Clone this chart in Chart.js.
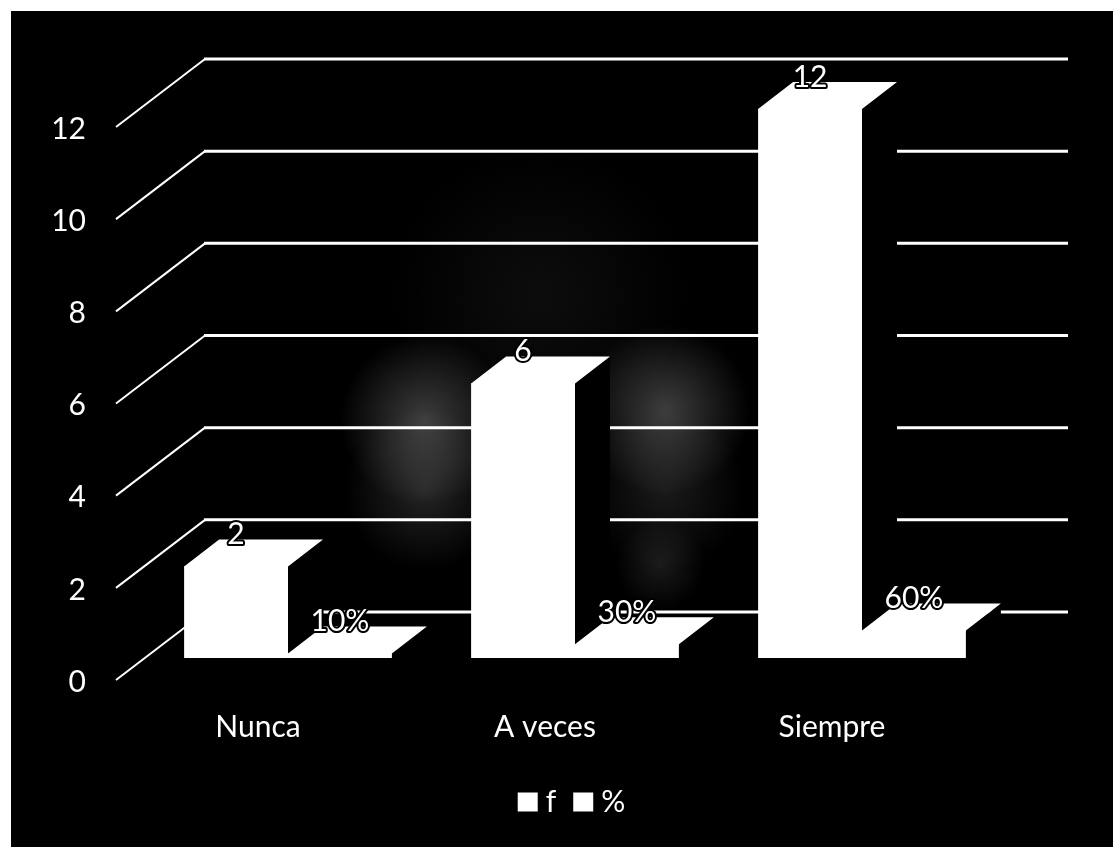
<!DOCTYPE html>
<html>
<head>
<meta charset="utf-8">
<title>Frecuencia</title>
<script src="https://cdn.jsdelivr.net/npm/chart.js@4"></script>
<style>
    html, body { margin: 0; padding: 0; background: #fff; }
    canvas { display: block; }
</style>
</head>
<body>
<canvas id="canvas1" width="1113" height="847"></canvas>
<script>
const categories = ["Nunca", "A veces", "Siempre"]
const fValues = [2, 6, 12]
const percentValues = [0.1, 0.3, 0.6]
const seriesNames = ["f", "%"]

const white = "#ffffff"
const black = "#000000"
const labelFont = { family: "Lato", size: 30 }

// how far the top and side faces of a bar recede
const barDepthX = 35
const barDepthY = -27
// offset from the y scale to the back wall and to the front edge of the floor
const wallX = 205
const wallRight = 1068
const wallOffset = -46
const frontX = 116
const frontOffset = 22

// white page margin, black plate, and the faint grey stains behind the bars
const backdrop = {
    id: "backdrop",
    beforeDraw(chart) {
        const ctx = chart.ctx
        ctx.save()
        ctx.fillStyle = white
        ctx.fillRect(0, 0, chart.width, chart.height)
        ctx.fillStyle = black
        ctx.fillRect(11, 11, chart.width, chart.height)
        const stain = (x, y, r, alpha) => {
            const g = ctx.createRadialGradient(x, y, 0, x, y, r)
            g.addColorStop(0, `rgba(255,255,255,${alpha})`)
            g.addColorStop(1, "rgba(255,255,255,0)")
            ctx.fillStyle = g
            ctx.fillRect(x - r, y - r, r * 2, r * 2)
        }
        stain(425, 420, 85, 0.24)
        stain(425, 490, 80, 0.14)
        stain(665, 410, 85, 0.24)
        stain(665, 490, 80, 0.1)
        stain(540, 295, 150, 0.05)
        stain(660, 565, 45, 0.1)
        ctx.restore()
    }
}

// wall lines, floor diagonals and the receding faces of each bar
const depth3d = {
    id: "depth3d",
    beforeDatasetsDraw(chart) {
        const ctx = chart.ctx
        const y = chart.scales.y
        ctx.save()
        ctx.strokeStyle = white
        y.ticks.forEach(tick => {
            const py = y.getPixelForValue(tick.value)
            ctx.lineWidth = 2
            ctx.beginPath()
            ctx.moveTo(frontX, py + frontOffset)
            ctx.lineTo(wallX, py + wallOffset)
            ctx.stroke()
            ctx.lineWidth = 3
            ctx.beginPath()
            ctx.moveTo(wallX - 1, py + wallOffset)
            ctx.lineTo(wallRight, py + wallOffset)
            ctx.stroke()
        })
        chart.data.datasets.forEach((ds, i) => {
            chart.getDatasetMeta(i).data.forEach(bar => {
                const left = bar.x - bar.width / 2
                const right = bar.x + bar.width / 2
                // side face stays black so it hides the wall lines
                ctx.fillStyle = black
                ctx.beginPath()
                ctx.moveTo(right, bar.y)
                ctx.lineTo(right + barDepthX, bar.y + barDepthY)
                ctx.lineTo(right + barDepthX, bar.base + barDepthY)
                ctx.lineTo(right, bar.base)
                ctx.closePath()
                ctx.fill()
                // top face runs a pixel into the front so no seam shows
                ctx.fillStyle = white
                ctx.beginPath()
                ctx.moveTo(left, bar.y + 1)
                ctx.lineTo(left, bar.y)
                ctx.lineTo(left + barDepthX, bar.y + barDepthY)
                ctx.lineTo(right + barDepthX, bar.y + barDepthY)
                ctx.lineTo(right, bar.y)
                ctx.lineTo(right, bar.y + 1)
                ctx.closePath()
                ctx.fill()
            })
        })
        ctx.restore()
    },
    // value labels, white with a black outline so they read over the bars
    afterDatasetsDraw(chart) {
        const ctx = chart.ctx
        ctx.save()
        ctx.font = `${labelFont.size}px ${labelFont.family}`
        ctx.textAlign = "center"
        ctx.textBaseline = "middle"
        ctx.lineJoin = "round"
        chart.data.datasets.forEach((ds, i) => {
            chart.getDatasetMeta(i).data.forEach((bar, j) => {
                const text = i === 0 ? String(ds.data[j]) : Math.round(ds.data[j] * 100) + "%"
                ctx.lineWidth = 4
                ctx.strokeStyle = black
                ctx.strokeText(text, bar.x, bar.y - 32)
                ctx.fillStyle = white
                ctx.fillText(text, bar.x, bar.y - 32)
            })
        })
        ctx.restore()
    }
}

const ctx = document.querySelector("#canvas1")
const myBarChart = new Chart(ctx, {
    type: "bar",
    data: {
        labels: categories,
        datasets: [
            { label: seriesNames[0], data: fValues, backgroundColor: white, yAxisID: "yBar" },
            { label: seriesNames[1], data: percentValues, backgroundColor: white, yAxisID: "yBar" }
        ]
    },
    plugins: [backdrop, depth3d],
    options: {
        responsive: false,
        animation: false,
        events: [],
        barPercentage: 1,
        categoryPercentage: 0.724,
        layout: { padding: { top: 105, left: 0, right: 107.5, bottom: 20 } },
        scales: {
            x: {
                afterFit: scale => { scale.height = 105 },
                grid: { display: false, drawTicks: false },
                border: { display: false },
                ticks: { color: white, font: labelFont, padding: 51, labelOffset: -30, maxRotation: 0 }
            },
            y: {
                position: "left",
                min: 0,
                max: 12,
                afterFit: scale => { scale.width = 144.5 },
                grid: { display: false, drawTicks: false },
                border: { display: false },
                ticks: { color: white, font: labelFont, stepSize: 2, padding: 58.5, labelOffset: frontOffset + 2 }
            },
            // bars sit slightly forward of the wall, so their scale is a touch shorter
            yBar: { display: false, min: 0, max: 12.09 }
        },
        plugins: {
            tooltip: { enabled: false },
            legend: {
                position: "bottom",
                fullSize: false,
                labels: {
                    color: white,
                    font: labelFont,
                    boxWidth: 6,
                    boxHeight: 5,
                    padding: 24,
                    generateLabels: chart => chart.data.datasets.map((ds, i) => ({
                        text: ds.label,
                        fillStyle: white,
                        strokeStyle: white,
                        lineWidth: 14,
                        fontColor: white,
                        datasetIndex: i
                    }))
                }
            }
        }
    }
})
</script>
</body>
</html>
